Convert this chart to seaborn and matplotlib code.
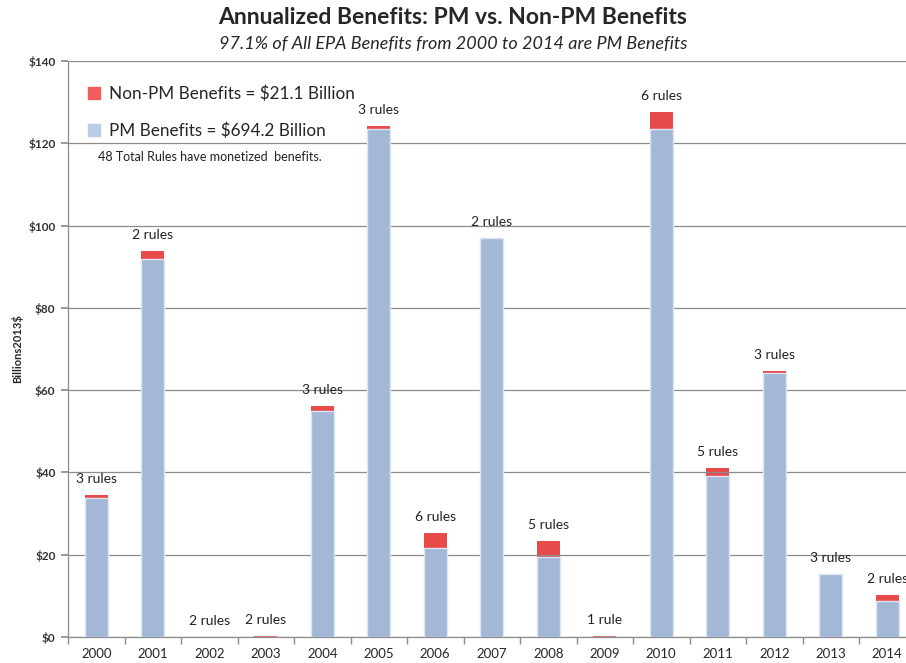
import matplotlib
matplotlib.use("Agg")
import matplotlib.pyplot as plt
import matplotlib.patches as mpatches
from matplotlib.ticker import FixedLocator, FuncFormatter
import seaborn as sns
import pandas as pd
import numpy as np

years = ["2000", "2001", "2002", "2003", "2004", "2005", "2006", "2007",
         "2008", "2009", "2010", "2011", "2012", "2013", "2014"]
pm_benefits = [33.8, 91.9, 0.0, 0.0, 54.9, 123.5, 21.6, 97.0,
               19.4, 0.0, 123.5, 39.1, 64.2, 15.3, 8.8]
non_pm_benefits = [0.7, 1.9, 0.0, 0.3, 1.2, 0.7, 3.7, 0.0,
                   3.9, 0.3, 4.1, 2.0, 0.5, 0.0, 1.4]
rule_labels = ["3 rules", "2 rules", "2 rules", "2 rules", "3 rules", "3 rules",
               "6 rules", "2 rules", "5 rules", "1 rule", "6 rules", "5 rules",
               "3 rules", "3 rules", "2 rules"]
y_ticks = [0, 20, 40, 60, 80, 100, 120, 140]

df = pd.DataFrame({"year": years, "pm": pm_benefits, "nonpm": non_pm_benefits})
df["total"] = df["pm"] + df["nonpm"]

sns.set_theme(style="white")
plt.rcParams["font.family"] = ["Lato", "DejaVu Sans"]

W, H = 906, 663
fig = plt.figure(figsize=(W / 100, H / 100), dpi=100)
ax = fig.add_axes([68 / W, 26 / H, 847.5 / W, 576 / H])

RED = "#E84A4A"
BLUE = "#A2B8D6"

sns.barplot(data=df, x="year", y="total", color=RED, saturation=1, width=0.4,
            edgecolor="none", ax=ax, zorder=2)
sns.barplot(data=df, x="year", y="pm", color=BLUE, saturation=1, width=0.4,
            edgecolor="#DCE5F1", linewidth=1.0, ax=ax, zorder=3)

ax.set_xlim(-0.5, 14.5)
ax.set_ylim(0, 140)
ax.set_yticks(y_ticks)
ax.yaxis.set_major_formatter(FuncFormatter(lambda v, p: f"${v:.0f}"))
ax.yaxis.grid(True, color="#8C8C8C", linewidth=0.9, zorder=4)
ax.set_axisbelow(False)

for s in ["top", "right"]:
    ax.spines[s].set_visible(False)
for s in ["left", "bottom"]:
    ax.spines[s].set_color("#8C8C8C")
    ax.spines[s].set_linewidth(0.9)

ax.tick_params(axis="y", which="major", left=True, length=5, color="#8C8C8C",
               labelsize=8.5, pad=4)
ax.tick_params(axis="x", which="major", length=0, labelsize=9.5, pad=8)
ax.xaxis.set_minor_locator(FixedLocator(np.arange(-0.5, 15, 1.0)))
ax.tick_params(axis="x", which="minor", bottom=True, length=5, color="#8C8C8C")
for lab in ax.get_yticklabels():
    lab.set_fontweight("bold")
    lab.set_color("#333333")

ax.set_xlabel("")
ax.set_ylabel("Billions2013$", fontsize=8, fontweight="bold", labelpad=4)

for i, (tot, lab) in enumerate(zip(df["total"], rule_labels)):
    ax.annotate(lab, (i, tot), xytext=(0, 7), textcoords="offset points",
                ha="center", va="bottom", fontsize=10, color="#222222")

handles = [mpatches.Patch(color="#F25C5C", label="Non-PM Benefits = $21.1 Billion"),
           mpatches.Patch(color="#B9CDE8", label="PM Benefits = $694.2 Billion")]
ax.legend(handles=handles, loc="upper left", bbox_to_anchor=(0.006, 0.985),
          frameon=False, fontsize=12.3, handlelength=0.7, handleheight=0.7,
          handletextpad=0.5, labelspacing=1.2)
fig.text(98 / W, 1 - 157 / H, "48 Total Rules have monetized  benefits.",
         fontsize=9, va="center", ha="left", color="#222222")

fig.text(0.5, 1 - 17 / H, "Annualized Benefits: PM vs. Non-PM Benefits",
         ha="center", va="center", fontsize=16.5, fontweight="bold")
fig.text(0.5, 1 - 44 / H, "97.1% of All EPA Benefits from 2000 to 2014 are PM Benefits",
         ha="center", va="center", fontsize=13, fontstyle="italic")

fig.savefig("out.png", dpi=100)
